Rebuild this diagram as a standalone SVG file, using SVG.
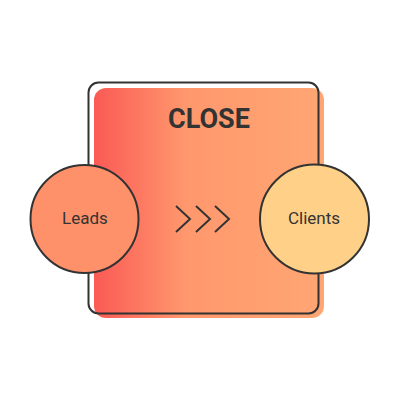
<svg xmlns="http://www.w3.org/2000/svg" width="401" height="401" viewBox="0 0 401 401">
<defs>
<linearGradient id="g" x1="0" y1="0" x2="1" y2="0">
<stop offset="0" stop-color="#FA5A55"/>
<stop offset="0.4" stop-color="#FF986D"/>
<stop offset="1" stop-color="#FFA673"/>
</linearGradient>
<style>
.t{font-family:Roboto,"Liberation Sans",sans-serif;fill:#333;text-anchor:middle}
.c{stroke:#333;stroke-width:2}
.ch{fill:none;stroke:#333;stroke-width:2}
</style>
</defs>
<g id="close">
<rect x="94" y="88" width="230" height="230" rx="12" fill="url(#g)"/>
<rect x="88.5" y="82.5" width="230" height="231" rx="10" fill="none" stroke="#333" stroke-width="2"/>
<text class="t" x="209" y="127.5" font-size="27" font-weight="bold">CLOSE</text>
</g>
<g id="connectors">
<polyline class="ch" points="176,206 190,219 176,232"/>
<polyline class="ch" points="196,206 210,219 196,232"/>
<polyline class="ch" points="215,206 229,219 215,232"/>
</g>
<g id="leads">
<circle class="c" cx="84.5" cy="219" r="54" fill="#FF916A"/>
<text class="t" x="85" y="224.3" font-size="17">Leads</text>
</g>
<g id="clients">
<circle class="c" cx="314.5" cy="219" r="54.5" fill="#FFD088"/>
<text class="t" x="314" y="224.3" font-size="17">Clients</text>
</g>
</svg>
